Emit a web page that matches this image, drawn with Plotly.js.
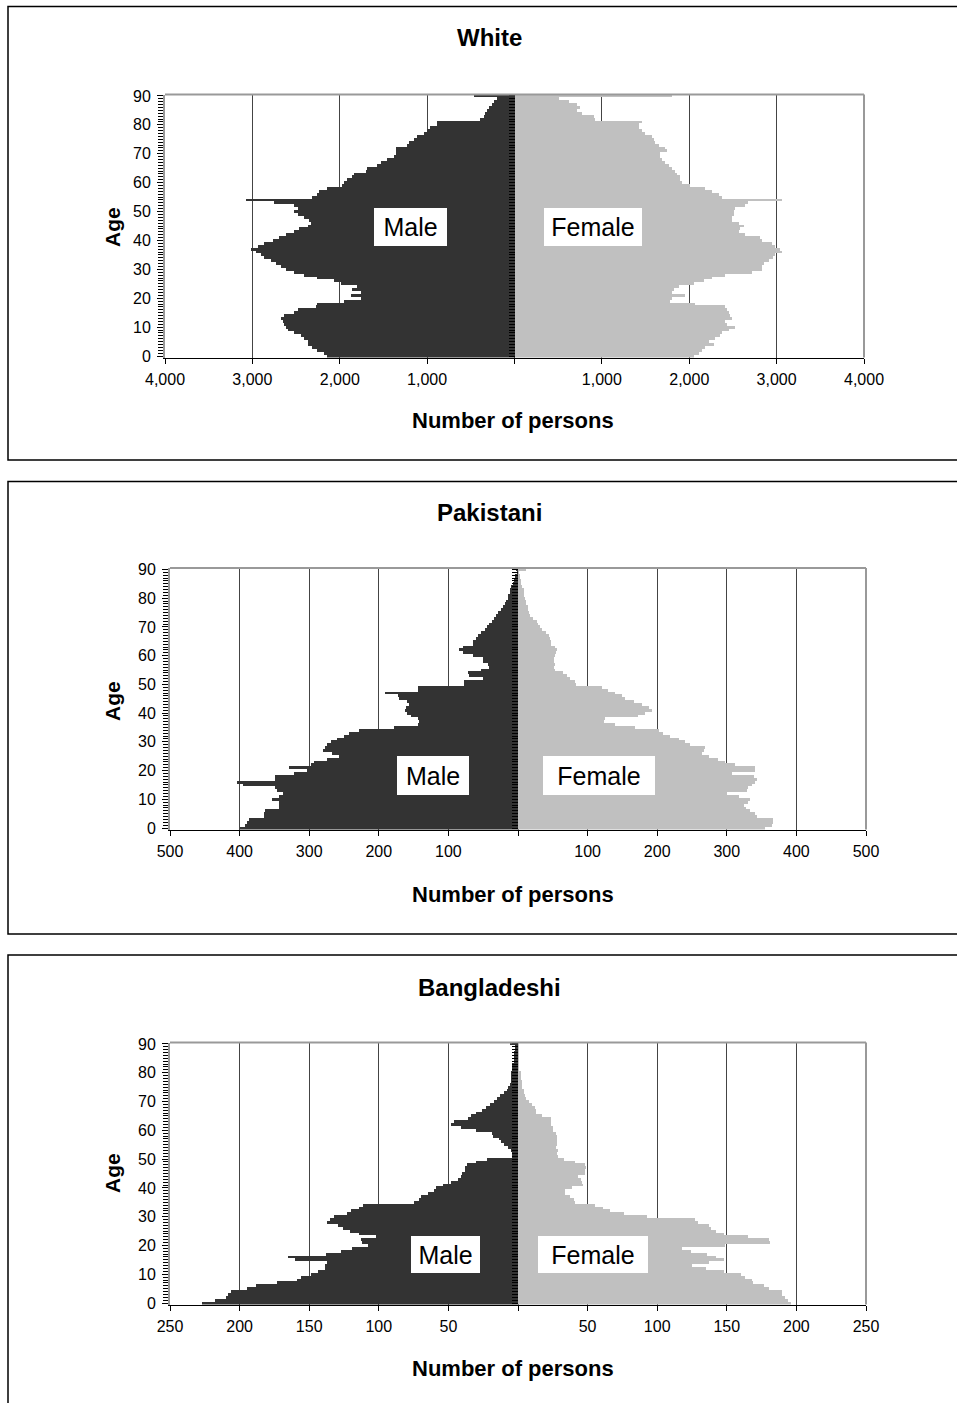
<!DOCTYPE html>
<html>
<head>
<meta charset="utf-8">
<script src="https://cdn.plot.ly/plotly-3.0.1.min.js"></script>
<style>html,body{margin:0;padding:0;background:#fff;}#chart{width:957px;height:1403px;}</style>
</head>
<body>
<div id="chart"></div>
<script>
// ---- Data (ages 0..90, 90 = 90+) ----
const ages = Array.from({length: 91}, (_, i) => i);

const whiteMale = [2141,2179,2255,2312,2369,2369,2407,2445,2521,2597,
  2616,2635,2654,2673,2635,2521,2483,2274,2255,1951,
  1760,1875,1760,1855,1798,1989,2065,2255,2407,2521,
  2616,2673,2730,2787,2863,2901,2958,3015,2939,2863,
  2768,2692,2616,2521,2464,2369,2331,2350,2407,2483,
  2521,2483,2521,2749,3072,2312,2255,2236,2141,1970,
  1951,1912,1855,1836,1703,1684,1570,1532,1456,1380,
  1361,1361,1361,1228,1209,1152,1114,1038,1000,962,
  886,886,400,354,335,316,297,260,240,200,468];

const whiteFemale = [2050,2107,2145,2183,2278,2221,2297,2354,2373,2450,
  2526,2430,2411,2488,2469,2450,2430,2411,2069,1783,
  1802,1954,1802,1821,1878,2050,2164,2259,2411,2716,
  2830,2830,2850,2907,2964,2983,3059,3040,2983,2945,
  2830,2811,2640,2564,2583,2621,2564,2488,2488,2507,
  2507,2526,2640,2678,3059,2373,2335,2259,2183,2011,
  1916,1897,1897,1859,1840,1802,1764,1726,1688,1669,
  1669,1745,1726,1650,1611,1592,1573,1497,1459,1421,
  1421,1459,926,907,773,716,754,716,621,507,1802];

const pakMale = [399,392,389,387,365,365,363,344,344,344,
  353,344,337,346,349,395,404,349,349,322,
  303,329,298,293,274,257,267,280,278,274,
  269,260,250,243,228,178,144,142,144,154,
  159,163,161,156,159,171,173,191,144,144,
  77,77,50,70,72,53,41,43,50,50,
  65,79,85,79,65,65,60,58,53,48,
  44,41,38,34,31,29,24,22,19,17,
  15,14,12,12,10,7,6,5,4,2,3];

const pakFemale = [355,365,367,367,343,341,334,327,324,331,
  334,317,300,329,331,336,341,343,339,307,
  341,341,312,298,288,274,264,267,269,247,
  240,231,219,209,202,168,140,123,125,173,
  183,192,188,178,166,154,149,140,130,120,
  84,82,75,70,65,53,52,53,52,52,
  53,54,56,53,48,47,46,44,40,34,
  32,29,27,22,17,16,15,14,12,12,
  10,9,8,8,6,5,4,3,3,2,12];

const bangMale = [227,218,210,208,206,195,188,173,159,156,
  149,144,139,139,137,160,165,138,127,119,
  108,112,113,102,114,121,126,129,137,135,
  132,123,120,114,111,75,71,70,65,60,
  59,54,48,43,41,40,38,38,37,30,
  22,4,4,5,7,10,12,14,18,19,
  30,41,48,46,36,34,30,26,23,20,
  17,15,13,10,8,7,6,5,5,5,
  5,4,4,4,3,3,3,3,2,2,6];

const bangFemale = [196,194,192,190,190,180,177,169,168,163,
  160,148,135,125,137,148,142,136,124,118,
  149,181,180,165,148,142,139,137,129,127,
  93,76,66,61,55,41,40,37,34,34,
  39,47,46,45,43,48,48,49,48,41,
  33,29,28,29,27,28,28,28,28,27,
  25,25,24,24,24,17,13,13,12,10,
  8,6,5,4,4,3,3,3,2,2,
  2,1,1,1,1,1,1,1,1,1,1];

const panelTitles = ['White', 'Pakistani', 'Bangladeshi'];
const sexLabels = ['Male', 'Female'];
const xTitle = 'Number of persons';
const yTitle = 'Age';

// ---- Layout helpers (pixel geometry) ----
const W = 957, H = 1403;
const px = v => v / W;
const py = v => 1 - v / H;
const FONT = 'Liberation Sans, Arial, Helvetica, sans-serif';
const MALE_COL = '#333333', FEMALE_COL = '#C0C0C0';

const panels = [
  {male: whiteMale, female: whiteFemale, max: 4000, step: 1000,
   plotX: [165, 864], plotY: [94.5, 357.5], frame: [6.5, 460],
   titleY: 38, xTitleY: 421, yTitleY: 227,
   maleBox: [410, 227, 73, 38], femaleBox: [592.5, 227, 98, 38]},
  {male: pakMale, female: pakFemale, max: 500, step: 100,
   plotX: [170, 866], plotY: [568, 829.5], frame: [481.5, 934],
   titleY: 512, xTitleY: 894, yTitleY: 701,
   maleBox: [432.5, 775, 72, 39], femaleBox: [599, 775, 112, 39]},
  {male: bangMale, female: bangFemale, max: 250, step: 50,
   plotX: [170, 866], plotY: [1042.5, 1304.5], frame: [955, 1420],
   titleY: 987, xTitleY: 1368, yTitleY: 1173,
   maleBox: [445, 1254.5, 69, 37], femaleBox: [593, 1254.5, 110, 37]}
];

const data = [];
const layout = {
  width: W, height: H, autosize: false,
  margin: {l: 0, r: 0, t: 0, b: 0, pad: 0},
  paper_bgcolor: '#fff', plot_bgcolor: '#fff',
  showlegend: false, barmode: 'overlay', bargap: 0,
  font: {family: FONT, color: '#000'},
  shapes: [], annotations: []
};

panels.forEach((p, i) => {
  const n = i + 1;
  const xid = n === 1 ? 'x' : 'x' + n;
  const yid = n === 1 ? 'y' : 'y' + n;
  const cid = 'y' + (n + 3);       // centre axis (female bars + centre ticks)
  const xKey = n === 1 ? 'xaxis' : 'xaxis' + n;
  const yKey = n === 1 ? 'yaxis' : 'yaxis' + n;
  const cKey = 'yaxis' + (n + 3);

  data.push({type: 'bar', orientation: 'h', y: ages, x: p.male.map(v => -v),
    xaxis: xid, yaxis: yid, marker: {color: MALE_COL, line: {width: 0}},
    width: 1, hoverinfo: 'skip'});
  data.push({type: 'bar', orientation: 'h', y: ages, x: p.female,
    xaxis: xid, yaxis: cid, marker: {color: FEMALE_COL, line: {width: 0}},
    width: 1, hoverinfo: 'skip'});

  const tv = [], tt = [];
  for (let v = -p.max; v <= p.max; v += p.step) {
    tv.push(v);
    tt.push(v === 0 ? '' : Math.abs(v).toLocaleString('en-US'));
  }
  const xDom = [px(p.plotX[0]), px(p.plotX[1])];
  const yDom = [py(p.plotY[1]), py(p.plotY[0])];
  layout[xKey] = {
    domain: xDom, range: [-p.max, p.max], anchor: yid,
    tickmode: 'array', tickvals: tv, ticktext: tt,
    ticks: 'outside', ticklen: 5, tickwidth: 1, tickcolor: '#000',
    showline: true, linecolor: '#000', linewidth: 1,
    showgrid: true, gridcolor: '#444', gridwidth: 1, zeroline: false,
    tickfont: {family: FONT, size: 16, color: '#000'}, ticklabelstandoff: 2,
    fixedrange: true
  };
  layout[yKey] = {
    domain: yDom, range: [-0.5, 90.5], anchor: xid,
    tickmode: 'linear', tick0: 0, dtick: 10,
    ticks: 'outside', ticklen: 6, tickwidth: 1, tickcolor: '#000',
    minor: {tickmode: 'linear', tick0: 0, dtick: 1, ticks: 'outside', ticklen: 5,
            tickwidth: 1, tickcolor: '#000', showgrid: false},
    showline: true, linecolor: '#999', linewidth: 2,
    showgrid: false, zeroline: false,
    tickfont: {family: FONT, size: 16, color: '#000'}, ticklabelstandoff: 3,
    fixedrange: true
  };
  layout[cKey] = {
    overlaying: yid, anchor: 'free', position: (xDom[0] + xDom[1]) / 2, side: 'left',
    range: [-0.5, 90.5], tickmode: 'linear', tick0: 0, dtick: 1,
    ticks: 'outside', ticklen: 6, tickwidth: 1, tickcolor: '#000',
    showticklabels: false, showline: false, showgrid: false, zeroline: false,
    fixedrange: true
  };

  // panel frame
  layout.shapes.push({type: 'rect', xref: 'paper', yref: 'paper',
    x0: px(8), x1: px(990), y0: py(p.frame[1]), y1: py(p.frame[0]),
    line: {color: '#000', width: 1.5}, fillcolor: 'rgba(0,0,0,0)', layer: 'below'});
  // plot-area border (top & right)
  layout.shapes.push({type: 'line', xref: xid + ' domain', yref: yid + ' domain',
    x0: 0, x1: 1, y0: 1, y1: 1, line: {color: '#999', width: 2}, layer: 'above'});
  layout.shapes.push({type: 'line', xref: xid + ' domain', yref: yid + ' domain',
    x0: 1, x1: 1, y0: 0, y1: 1, line: {color: '#999', width: 2}, layer: 'above'});

  // titles
  layout.annotations.push({xref: 'paper', yref: 'paper', x: px(489), y: py(p.titleY),
    xanchor: 'center', yanchor: 'middle', showarrow: false, text: panelTitles[i],
    font: {family: FONT, size: 24, weight: 'bold', color: '#000'}});
  layout.annotations.push({xref: 'paper', yref: 'paper', x: px(513), y: py(p.xTitleY),
    xanchor: 'center', yanchor: 'middle', showarrow: false, text: xTitle,
    font: {family: FONT, size: 22, weight: 'bold', color: '#000'}});
  layout.annotations.push({xref: 'paper', yref: 'paper', x: px(112), y: py(p.yTitleY),
    xanchor: 'center', yanchor: 'middle', showarrow: false, text: yTitle, textangle: -90,
    font: {family: FONT, size: 21, weight: 'bold', color: '#000'}});
  // Male / Female labels in white boxes
  [p.maleBox, p.femaleBox].forEach((b, k) => {
    layout.annotations.push({xref: 'paper', yref: 'paper', x: px(b[0]), y: py(b[1]),
      xanchor: 'center', yanchor: 'middle', showarrow: false, text: sexLabels[k],
      width: b[2], height: b[3], bgcolor: '#fff', borderpad: 0, borderwidth: 0,
      align: 'center', valign: 'middle',
      font: {family: FONT, size: 25, color: '#000'}});
  });
});

Plotly.newPlot('chart', data, layout, {staticPlot: true, displayModeBar: false});
</script>
</body>
</html>
